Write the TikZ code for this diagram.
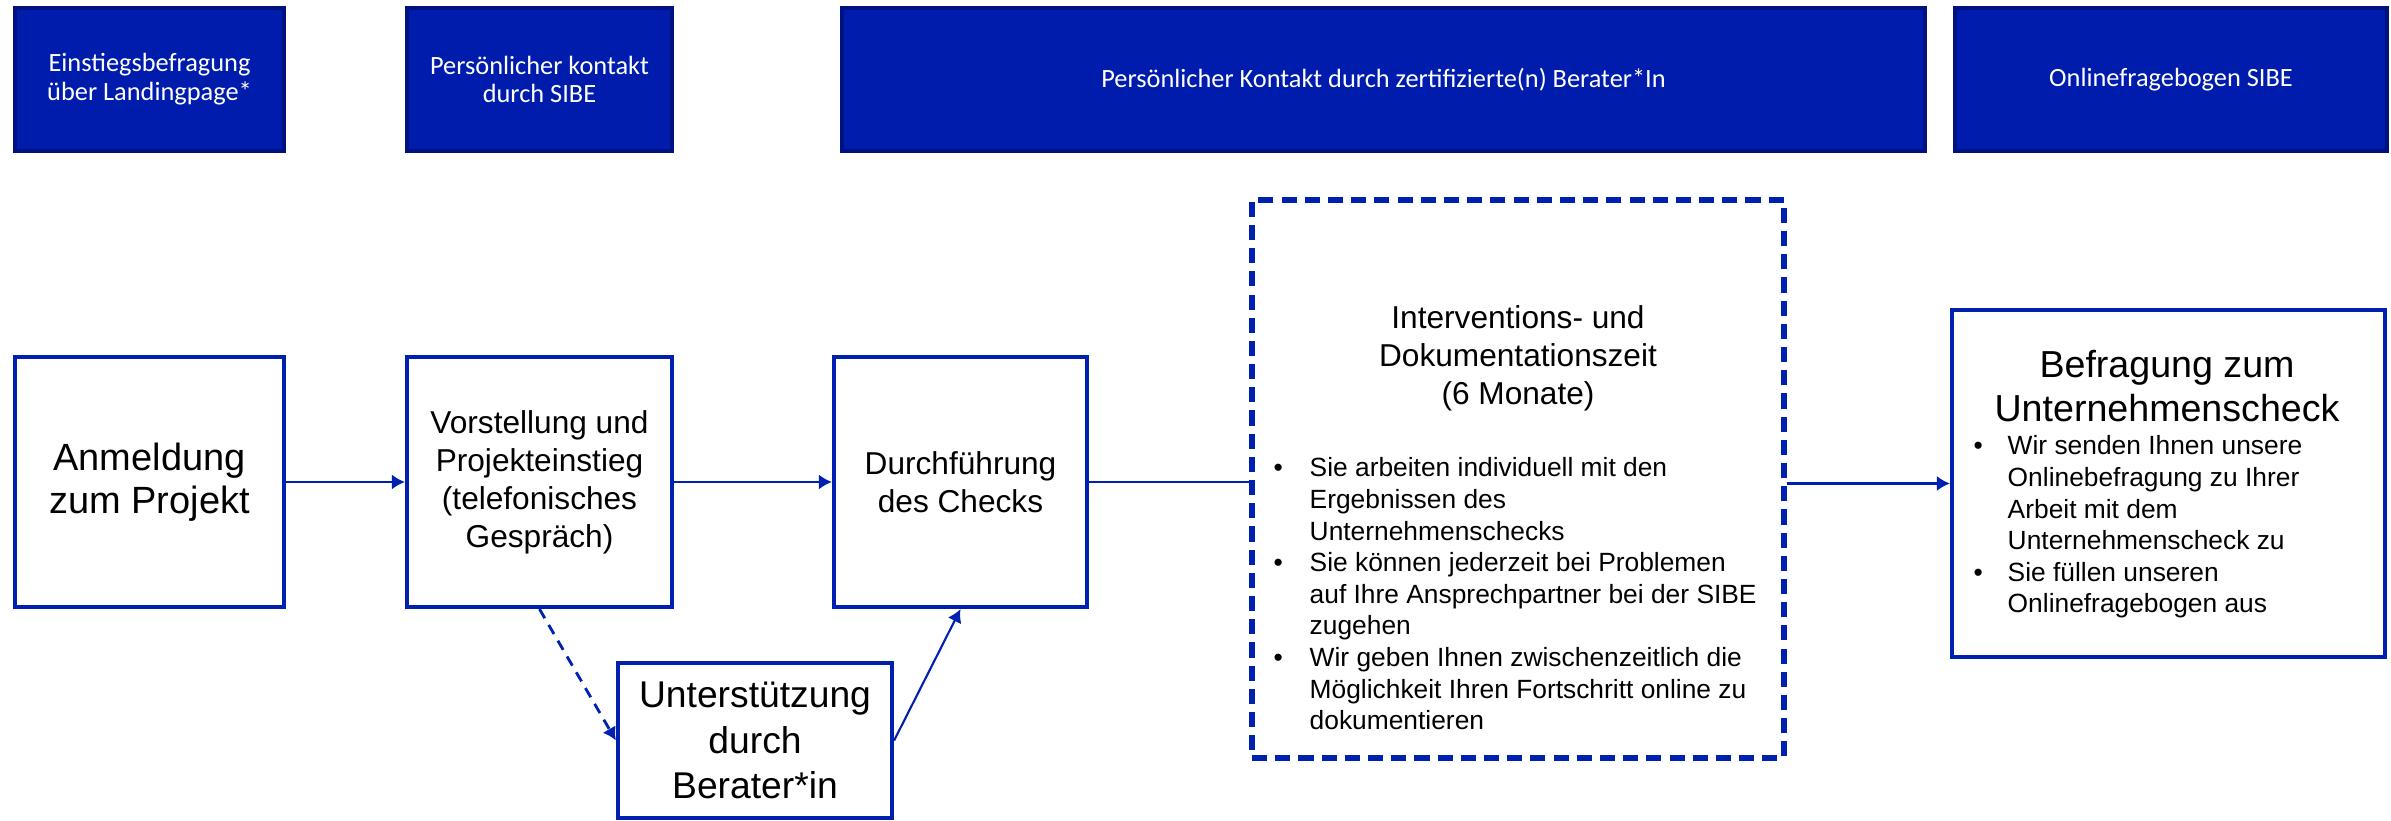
\documentclass[tikz,border=0pt]{standalone}
\usepackage{fontspec}
\setmainfont{Liberation Sans}
\newfontfamily\carlito{Carlito}
\usepackage{tikz}
\usetikzlibrary{arrows.meta, positioning}
\definecolor{headcolor}{RGB}{0,28,172}
\definecolor{headborder}{RGB}{0,18,128}
\definecolor{boxcolor}{RGB}{0,32,176}

\begin{document}
\begin{tikzpicture}[
    header/.style={draw=headborder, line width=1.2pt, fill=headcolor, text=white, minimum height=1.43cm, inner sep=0pt, align=center, font=\carlito\fontsize{7.5}{8.2}\selectfont},
    stepbox/.style={draw=boxcolor, line width=1.2pt, fill=white, minimum height=2.5cm, inner sep=0pt, align=center, font=\fontsize{9}{10.8}\selectfont},
    phasebox/.style={draw=boxcolor, line width=1.5pt, dash pattern=on 4.3pt off 2.3pt, minimum width=5.32cm, minimum height=5.58cm, inner sep=0pt},
    arrow/.style={-{Latex[length=1.3mm, width=1.5mm]}, line width=0.6pt, boxcolor},
    itemlist/.style={inner sep=0pt, anchor=north west, align=left, font=\fontsize{7.5}{9}\selectfont}
]
    \useasboundingbox (0,0) rectangle (23.91,8.21);

    % Header
    \node[header, minimum width=2.69cm] (h1) at (1.495,7.415) {Einstiegsbefragung\\über Landingpage*};
    \node[header, minimum width=2.65cm] (h2) at (5.395,7.415) {Persönlicher kontakt\\durch SIBE};
    \node[header, minimum width=10.83cm] (h3) at (13.835,7.415) {Persönlicher Kontakt durch zertifizierte(n) Berater*In};
    \node[header, minimum width=4.32cm] (h4) at (21.71,7.415) {Onlinefragebogen SIBE};

    % Steps
    \node[stepbox, minimum width=2.69cm, font=\fontsize{10.8}{12.3}\selectfont] (anmeldung) at (1.495,3.39) {Anmeldung\\zum Projekt};
    \node[stepbox, minimum width=2.65cm] (vorstellung) at (5.395,3.39) {Vorstellung und\\Projekteinstieg\\(telefonisches\\Gespräch)};
    \node[stepbox, minimum width=2.53cm] (durchfuehrung) at (9.605,3.39) {Durchführung\\des Checks};
    \node[stepbox, minimum width=2.74cm, minimum height=1.55cm, font=\fontsize{10.6}{13}\selectfont] (unterstuetzung) at (7.55,0.805) {Unterstützung\\durch\\Berater*in};
    \node[phasebox] (intervention) at (15.18,3.42) {};
    \node[stepbox, minimum width=4.33cm, minimum height=3.47cm] (befragung) at (21.685,3.375) {};

    % Texts in the two right boxes
    \node[align=center, inner sep=0pt, font=\fontsize{9}{10.8}\selectfont] (intertitle) at (15.18,4.63) {Interventions- und\\Dokumentationszeit\\(6 Monate)};
    \node[itemlist] (interlist) at (12.73,3.67) {%
        \begin{tabular}{@{}p{0.36cm}@{}l@{}}
        \textbullet & Sie arbeiten individuell mit den\\
         & Ergebnissen des\\
         & Unternehmenschecks\\
        \textbullet & Sie können jederzeit bei Problemen\\
         & auf Ihre Ansprechpartner bei der SIBE\\
         & zugehen\\
        \textbullet & Wir geben Ihnen zwischenzeitlich die\\
         & Möglichkeit Ihren Fortschritt online zu\\
         & dokumentieren
        \end{tabular}};
    \node[align=center, inner sep=0pt, font=\fontsize{10.7}{12.3}\selectfont] (beftitle) at (21.67,4.35) {Befragung zum\\Unternehmenscheck};
    \node[itemlist] (beflist) at (19.73,3.89) {%
        \begin{tabular}{@{}p{0.34cm}@{}l@{}}
        \textbullet & Wir senden Ihnen unsere\\
         & Onlinebefragung zu Ihrer\\
         & Arbeit mit dem\\
         & Unternehmenscheck zu\\
        \textbullet & Sie füllen unseren\\
         & Onlinefragebogen aus
        \end{tabular}};

    % Connectors
    \draw[arrow] (anmeldung) -- (vorstellung);
    \draw[arrow] (vorstellung) -- (durchfuehrung);
    \draw[boxcolor, line width=0.6pt] (durchfuehrung.east) -- (durchfuehrung.east -| intervention.west);
    \draw[arrow] (befragung.west -| intervention.east) -- (befragung.west);
    \draw[arrow, line width=0.8pt, dash pattern=on 3pt off 2.2pt] (vorstellung.south) -- (unterstuetzung.west);
    \draw[arrow] (unterstuetzung.east) -- (durchfuehrung.south);
\end{tikzpicture}
\end{document}
